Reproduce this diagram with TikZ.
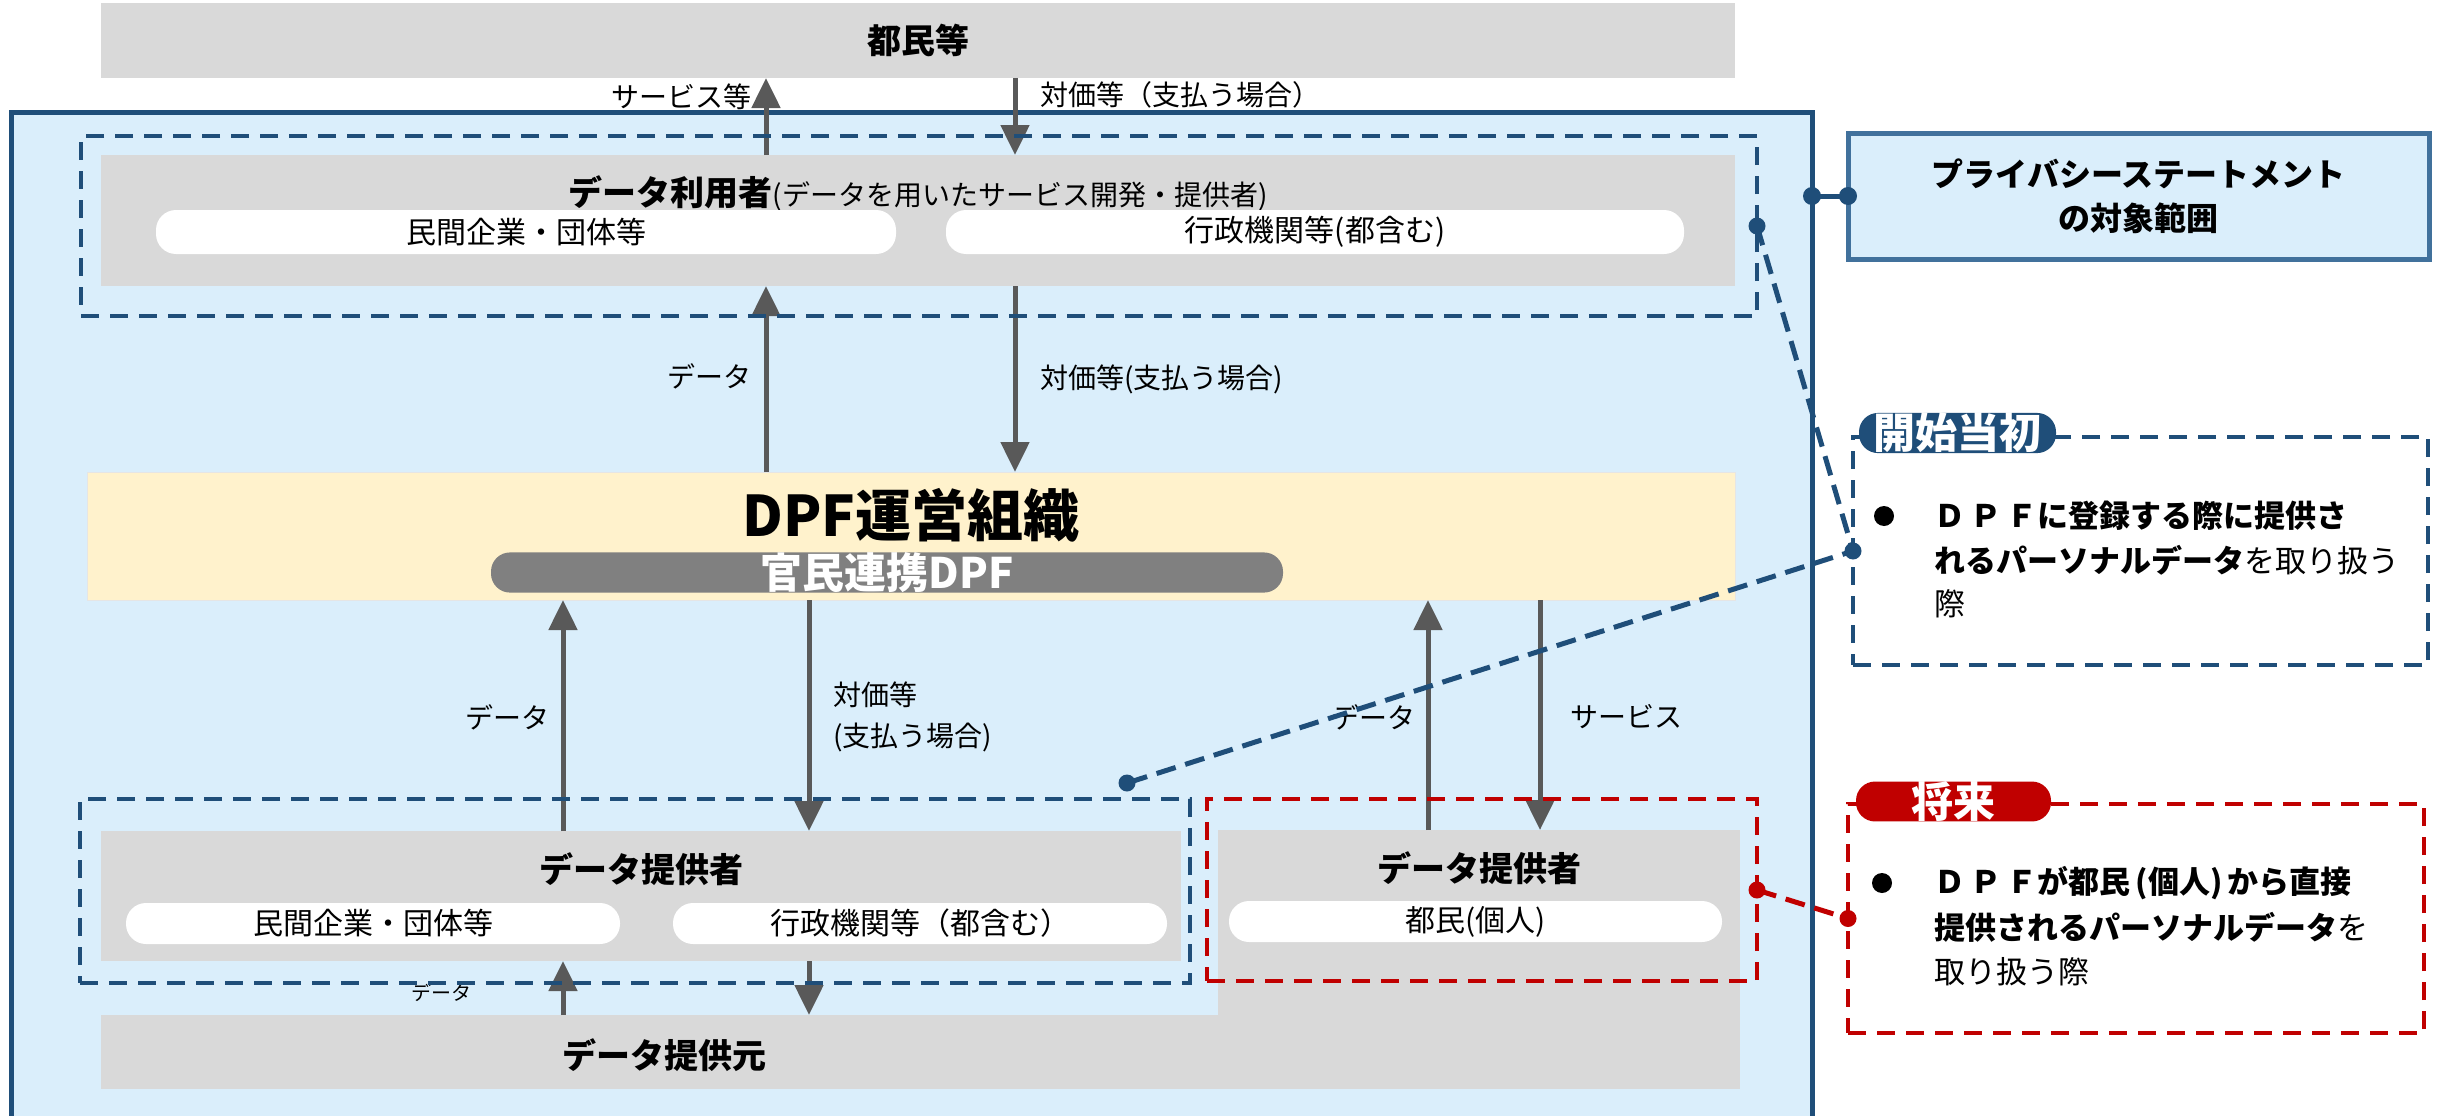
\documentclass[tikz,border=0pt]{standalone}
\usepackage{fontspec}
\setmainfont{Noto Sans CJK JP}
\usetikzlibrary{arrows.meta}
\definecolor{boxgray}{HTML}{D9D9D9}
\definecolor{lightblue}{HTML}{DAEEFB}
\definecolor{dkblue}{HTML}{1F4E79}
\definecolor{privblue}{HTML}{41719C}
\definecolor{myred}{HTML}{C00000}
\definecolor{dpfyellow}{HTML}{FFF2CC}
\definecolor{arrgray}{HTML}{595959}
\definecolor{pillgray}{HTML}{808080}
\newcommand{\fsz}[1]{\fontsize{#1pt}{#1pt}\selectfont}
\newcommand{\fsl}[2]{\fontsize{#1pt}{#2pt}\selectfont}
\tikzset{
  gbox/.style={fill=boxgray, draw=none, inner sep=0pt, outer sep=0pt},
  pillw/.style={fill=white, rounded corners=20pt, inner sep=0pt, outer sep=0pt, font=\fsz{30}},
  arr/.style={draw=arrgray, line width=5pt, -{Triangle[length=30pt,width=28pt]}},
  bdash/.style={draw=dkblue, line width=3.5pt, dash pattern=on 18pt off 11pt, inner sep=0pt, outer sep=0pt},
  rdash/.style={draw=myred, line width=3.5pt, dash pattern=on 18pt off 11pt, inner sep=0pt, outer sep=0pt},
  lbl/.style={font=\fsz{28}, inner sep=0pt},
  ttl/.style={font=\fsz{34}\bfseries, inner sep=0pt},
  tabbox/.style={rounded corners=19pt, inner sep=0pt, outer sep=0pt, text=white, font=\fsz{42}\bfseries},
  bul/.style={circle, fill=black, minimum size=20pt, inner sep=0pt},
  btxt/.style={anchor=west, inner sep=0pt, font=\fsz{31}},
}
\begin{document}
\begin{tikzpicture}[x=1pt,y=-1pt]
\useasboundingbox (0,0) rectangle (2445,1116);
\clip (0,0) rectangle (2445,1116);
\fill[white] (0,0) rectangle (2445,1116);

% top citizens box
\node[gbox, minimum width=1634pt, minimum height=75pt, font=\fsz{34}\bfseries] (tomin) at (918,40.5) {都民等};

% outer frame
\node[draw=dkblue, line width=5pt, fill=lightblue, minimum width=1801pt, minimum height=1028pt, inner sep=0pt, outer sep=0pt] (outer) at (911.5,626) {};

% data users
\node[gbox, minimum width=1634pt, minimum height=131pt] (user) at (918,220.5) {};
\node[inner sep=0pt] (userT) at (918,193) {{\fsz{34}\bfseries データ利用者}{\fsz{28}(データを用いたサービス開発・提供者)}};
\node[pillw, minimum width=740pt, minimum height=44pt] (p1) at (526,232) {民間企業・団体等};
\node[pillw, minimum width=738pt, minimum height=44pt] (p2) at (1315,232) {行政機関等(都含む)};

% DPF
\node[fill=dpfyellow, draw=black!10, line width=1pt, minimum width=1648pt, minimum height=128pt, inner sep=0pt, outer sep=0pt] (dpf) at (911,536) {};
\node[inner sep=0pt, font=\fsz{56}\bfseries] (dpfT) at (911,515) {DPF運営組織};
\node[fill=pillgray, rounded corners=19pt, minimum width=792pt, minimum height=39pt, inner sep=0pt, outer sep=0pt, text=white, font=\fsz{42}\bfseries] (dpfP) at (887,572.5) {官民連携DPF};

% providers
\node[gbox, minimum width=1080pt, minimum height=130pt] (prov1) at (641,896) {};
\node[ttl] (prov1T) at (641,869) {データ提供者};
\node[pillw, minimum width=494pt, minimum height=41pt] (p3) at (373,923.5) {民間企業・団体等};
\node[pillw, minimum width=494pt, minimum height=41pt] (p4) at (920,923.5) {行政機関等（都含む）};
\node[gbox, minimum width=522pt, minimum height=259pt] (prov2) at (1479,959.5) {};
\node[gbox, minimum width=1639pt, minimum height=74pt] (src) at (920.5,1052) {};
\node[ttl] (prov2T) at (1479,868) {データ提供者};
\node[pillw, minimum width=493pt, minimum height=41pt] (p5) at (1475.5,921.5) {都民(個人)};
\node[ttl] (srcT) at (664,1055) {データ提供元};

% arrow x positions
\coordinate (xa) at (766,0);
\coordinate (xb) at (1015,0);
\coordinate (xc) at (563,0);
\coordinate (xd) at (809,0);
\coordinate (xe) at (1428,0);
\coordinate (xf) at (1540,0);

\draw[arr] (xa |- user.north) -- (xa |- tomin.south);
\draw[arr] (xb |- tomin.south) -- (xb |- user.north);
\draw[arr] (xa |- dpf.north) -- (xa |- user.south);
\draw[arr] (xb |- user.south) -- (xb |- dpf.north);
\draw[arr] (xc |- prov1.north) -- (xc |- dpf.south);
\draw[arr] (xd |- dpf.south) -- (xd |- prov1.north);
\draw[arr] (xe |- prov2.north) -- (xe |- dpf.south);
\draw[arr] (xf |- dpf.south) -- (xf |- prov2.north);
\draw[arr] (xc |- src.north) -- (xc |- prov1.south);
\draw[arr] (xd |- prov1.south) -- (xd |- src.north);

% arrow labels
\node[lbl, anchor=east] (l1) at (752,97) {サービス等};
\node[lbl, anchor=west] (l2) at (1040,95) {対価等（支払う場合）};
\node[lbl, anchor=east] (l3) at (752,376) {データ};
\node[lbl, anchor=west] (l4) at (1040,379) {対価等(支払う場合)};
\node[lbl, anchor=east] (l5) at (550,717) {データ};
\node[lbl, anchor=west, align=left, font=\fsl{28}{41}] (l6) at (833,717) {対価等\\(支払う場合)};
\node[lbl, anchor=east] (l7) at (1416,717) {データ};
\node[lbl, anchor=west] (l8) at (1570,717) {サービス};
\node[inner sep=0pt, font=\fsz{20}] (l9) at (441,993) {データ};

% dashed scope boxes
\node[bdash, minimum width=1676pt, minimum height=180pt] (ud) at (919,226) {};
\node[bdash, minimum width=1110pt, minimum height=184pt] (ld) at (635,891) {};
\node[rdash, minimum width=550pt, minimum height=182pt] (rd) at (1482,890) {};

% privacy statement box
\node[draw=privblue, line width=5pt, fill=lightblue, minimum width=581pt, minimum height=126pt, inner sep=0pt, outer sep=0pt, align=center, font=\fsl{32}{44}\bfseries] (priv) at (2138.5,196) {プライバシーステートメント\\の対象範囲};

% initial box
\node[bdash, minimum width=575pt, minimum height=228pt] (kaishi) at (2140.5,551) {};
\node[tabbox, fill=dkblue, minimum width=197pt, minimum height=38pt] (ktab) at (1957.5,433) {開始当初};
\node[bul] (kb) at (1884,516) {};
\node[btxt] (k1) at (1934,516) {\bfseries Ｄ\,Ｐ\,Ｆに登録する際に提供さ};
\node[btxt] (k2) at (1934,560) {{\bfseries れるパーソナルデータ}を取り扱う};
\node[btxt] (k3) at (1934,604) {際};

% future box
\node[rdash, minimum width=576pt, minimum height=229pt] (shorai) at (2136,918.5) {};
\node[tabbox, fill=myred, minimum width=195pt, minimum height=37pt] (stab) at (1953.5,801.5) {将来};
\node[bul] (sb) at (1882,883) {};
\node[btxt] (s1) at (1934,883) {\bfseries Ｄ\,Ｐ\,Ｆが都民\,(個人)\,から直接};
\node[btxt] (s2) at (1934,927) {{\bfseries 提供されるパーソナルデータ}を};
\node[btxt] (s3) at (1934,972) {取り扱う際};

% connectors
\draw[dkblue, line width=5pt] (outer.east |- priv.west) -- (priv.west);
\fill[dkblue] (outer.east |- priv.west) circle (9pt) (priv.west) circle (9pt);

\coordinate (bend) at (1127,783);
\draw[dkblue, line width=5pt, dash pattern=on 20pt off 10pt] (ud.east) -- (kaishi.west) -- (bend);
\fill[dkblue] (ud.east) circle (8.5pt) (kaishi.west) circle (8.5pt) (bend) circle (8.5pt);

\draw[myred, line width=5pt, dash pattern=on 20pt off 10pt] (rd.east) -- (shorai.west);
\fill[myred] (rd.east) circle (8.5pt) (shorai.west) circle (8.5pt);
\end{tikzpicture}
\end{document}
